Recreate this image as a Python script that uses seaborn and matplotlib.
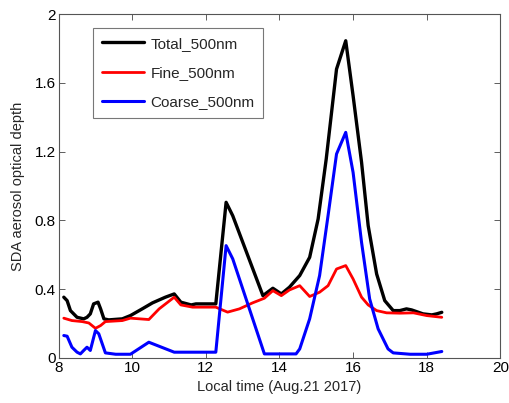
import matplotlib
matplotlib.use("Agg")
import matplotlib.pyplot as plt
import seaborn as sns
import pandas as pd

total_t = [8.14, 8.23, 8.32, 8.5, 8.68, 8.77, 8.86, 8.95, 9.07, 9.14, 9.23, 9.36, 9.73, 9.95,
           10.27, 10.55, 10.9, 11.14, 11.32, 11.6, 11.73, 12.27, 12.55, 12.73, 13.55, 13.82,
           14.05, 14.27, 14.55, 14.82, 15.05, 15.27, 15.55, 15.8, 16.0, 16.23, 16.41, 16.64,
           16.86, 17.09, 17.27, 17.45, 17.59, 17.9, 18.14, 18.27, 18.41]
total_v = [0.353, 0.333, 0.275, 0.236, 0.227, 0.236, 0.256, 0.314, 0.324, 0.285, 0.227, 0.221,
           0.227, 0.246, 0.285, 0.32, 0.353, 0.372, 0.324, 0.308, 0.314, 0.314, 0.905, 0.827,
           0.362, 0.405, 0.372, 0.411, 0.479, 0.585, 0.808, 1.157, 1.68, 1.845, 1.525, 1.138,
           0.769, 0.488, 0.333, 0.275, 0.275, 0.285, 0.279, 0.256, 0.25, 0.256, 0.265]

fine_t = [8.14, 8.36, 8.64, 8.82, 9.0, 9.14, 9.27, 9.73, 9.95, 10.45, 10.73, 11.14, 11.32,
          11.64, 12.27, 12.59, 12.91, 13.27, 13.59, 13.82, 14.05, 14.27, 14.55, 14.82, 15.09,
          15.32, 15.55, 15.8, 16.0, 16.23, 16.41, 16.64, 16.91, 17.27, 17.64, 18.0, 18.41]
fine_v = [0.231, 0.217, 0.211, 0.203, 0.172, 0.188, 0.211, 0.217, 0.231, 0.223, 0.285, 0.353,
          0.308, 0.295, 0.295, 0.266, 0.285, 0.32, 0.347, 0.391, 0.362, 0.395, 0.42, 0.357,
          0.382, 0.42, 0.517, 0.537, 0.459, 0.353, 0.308, 0.275, 0.262, 0.26, 0.262, 0.246, 0.236]

coarse_t = [8.14, 8.23, 8.36, 8.5, 8.59, 8.68, 8.77, 8.86, 9.0, 9.09, 9.27, 9.55, 9.95, 10.45,
            11.14, 12.27, 12.55, 12.73, 13.59, 14.45, 14.55, 14.82, 15.09, 15.32, 15.55, 15.8,
            16.0, 16.23, 16.45, 16.68, 16.95, 17.09, 17.55, 18.0, 18.41]
coarse_v = [0.13, 0.126, 0.062, 0.033, 0.023, 0.043, 0.062, 0.043, 0.159, 0.14, 0.029, 0.021,
            0.021, 0.091, 0.033, 0.033, 0.653, 0.576, 0.023, 0.023, 0.052, 0.227, 0.479, 0.828,
            1.186, 1.312, 1.079, 0.672, 0.343, 0.169, 0.052, 0.029, 0.021, 0.021, 0.037]

series_names = ["Total_500nm", "Fine_500nm", "Coarse_500nm"]
x_ticks = [8, 10, 12, 14, 16, 18, 20]
y_ticks = [0, 0.4, 0.8, 1.2, 1.6, 2.0]
y_labels = ["0", "0.4", "0.8", "1.2", "1.6", "2"]

sns.set_style("ticks")
plt.rcParams['font.family'] = ['Liberation Sans', 'DejaVu Sans']

fig = plt.figure(figsize=(5.1, 4.03), dpi=100)
ax = fig.add_axes([0.115, 0.112, 0.866, 0.853])

sns.lineplot(x=total_t, y=total_v, ax=ax, color="black", lw=2.4, label=series_names[0])
sns.lineplot(x=fine_t, y=fine_v, ax=ax, color="red", lw=2.0, label=series_names[1])
sns.lineplot(x=coarse_t, y=coarse_v, ax=ax, color="blue", lw=2.2, label=series_names[2])

ax.set_xlim(8, 20)
ax.set_ylim(0, 2)
ax.set_xticks(x_ticks)
ax.set_xticklabels([str(t) for t in x_ticks])
ax.set_yticks(y_ticks)
ax.set_yticklabels(y_labels)
ax.tick_params(direction="in", top=True, right=True, labelsize=11, length=4, width=0.6,
               colors="#444444", labelcolor="black", pad=2)
for s in ax.spines.values():
    s.set_color("#555555")
    s.set_linewidth(0.8)
ax.set_xlabel("Local time (Aug.21 2017)", fontsize=10.5, labelpad=4)
ax.set_ylabel("SDA aerosol optical depth", fontsize=10.5, labelpad=7)

leg = ax.legend(loc="upper left", bbox_to_anchor=(0.078, 0.959), borderaxespad=0,
                fontsize=11, frameon=True,
                fancybox=False, edgecolor="#555555", handlelength=2.8, handletextpad=0.4,
                labelspacing=1.0, borderpad=0.55)
leg.get_frame().set_linewidth(0.8)

fig.savefig("out.png", dpi=100)
